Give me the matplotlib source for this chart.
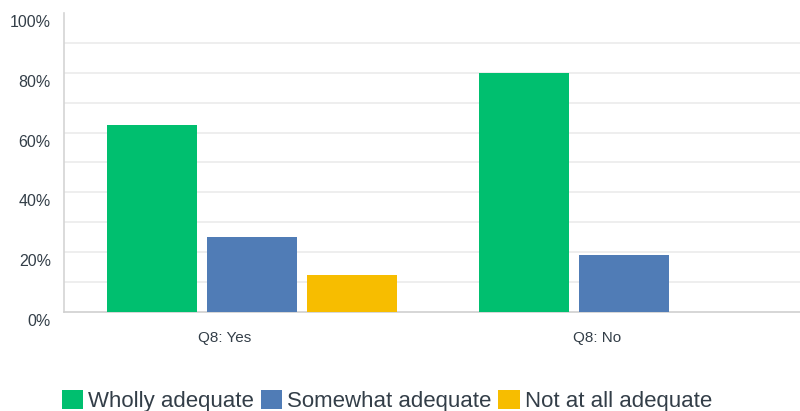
import matplotlib
matplotlib.use("Agg")
import matplotlib.pyplot as plt
import matplotlib.transforms as mtransforms
import numpy as np

categories = ["Q8: Yes", "Q8: No"]
series_names = ["Wholly adequate", "Somewhat adequate", "Not at all adequate"]
wholly = [62.5, 80.0]
somewhat = [25.0, 19.0]
not_at_all = [12.5, 0.0]
colors = ["#00BF6F", "#507CB6", "#F7BD00"]
ytick_vals = list(range(0, 101, 10))

plt.rcParams['font.family'] = ['Liberation Sans', 'DejaVu Sans']
text_color = "#333e48"

fig = plt.figure(figsize=(8, 4.11), dpi=100)
ax = fig.add_axes([64/800, 99/411, 736/800, 299/411])

x = np.arange(len(categories))
step = 100/372
width = 90/372
for i, (vals, name, c) in enumerate(zip([wholly, somewhat, not_at_all], series_names, colors)):
    ax.bar(x + (i - 1) * step, vals, width=width, color=c, label=name, zorder=3)

x0 = -0.5 - 1.8/372
ax.set_xlim(x0, x0 + 736/372)
ax.set_ylim(0, 100)
ax.set_yticks(ytick_vals)
ax.set_yticklabels([f"{v}%" if v % 20 == 0 else "" for v in ytick_vals])
ax.set_xticks(x)
ax.set_xticklabels(categories)

ax.tick_params(axis='both', length=0, colors=text_color, labelsize=11)
ax.tick_params(axis='y', pad=9.5, labelsize=11.5)
ax.tick_params(axis='x', pad=14)
ax.yaxis.grid(True, color="#ebebeb", linewidth=1.2, zorder=0)
ax.get_ygridlines()[-1].set_visible(False)
ax.get_ygridlines()[0].set_visible(False)
ax.set_axisbelow(True)

for s in ["top", "right"]:
    ax.spines[s].set_visible(False)
ax.spines["left"].set_color("#d4d4d4")
ax.spines["bottom"].set_color("#d0d0d0")
ax.spines["left"].set_linewidth(1.2)
ax.spines["bottom"].set_linewidth(1.2)

# label offsets as in the reference
off_y = mtransforms.ScaledTranslation(0, -8/100, fig.dpi_scale_trans)
for lab in ax.get_yticklabels():
    lab.set_transform(lab.get_transform() + off_y)
off_x = mtransforms.ScaledTranslation(-27/100, 0, fig.dpi_scale_trans)
for lab in ax.get_xticklabels():
    lab.set_transform(lab.get_transform() + off_x)

leg = fig.legend(loc='center', bbox_to_anchor=(387/800, 1 - 401/411), ncol=3,
                 frameon=False, fontsize=16, handlelength=0.95, handleheight=0.95,
                 handletextpad=0.25, columnspacing=0.3, borderpad=0, borderaxespad=0)
for t in leg.get_texts():
    t.set_color(text_color)

fig.savefig("out.png", dpi=100)
